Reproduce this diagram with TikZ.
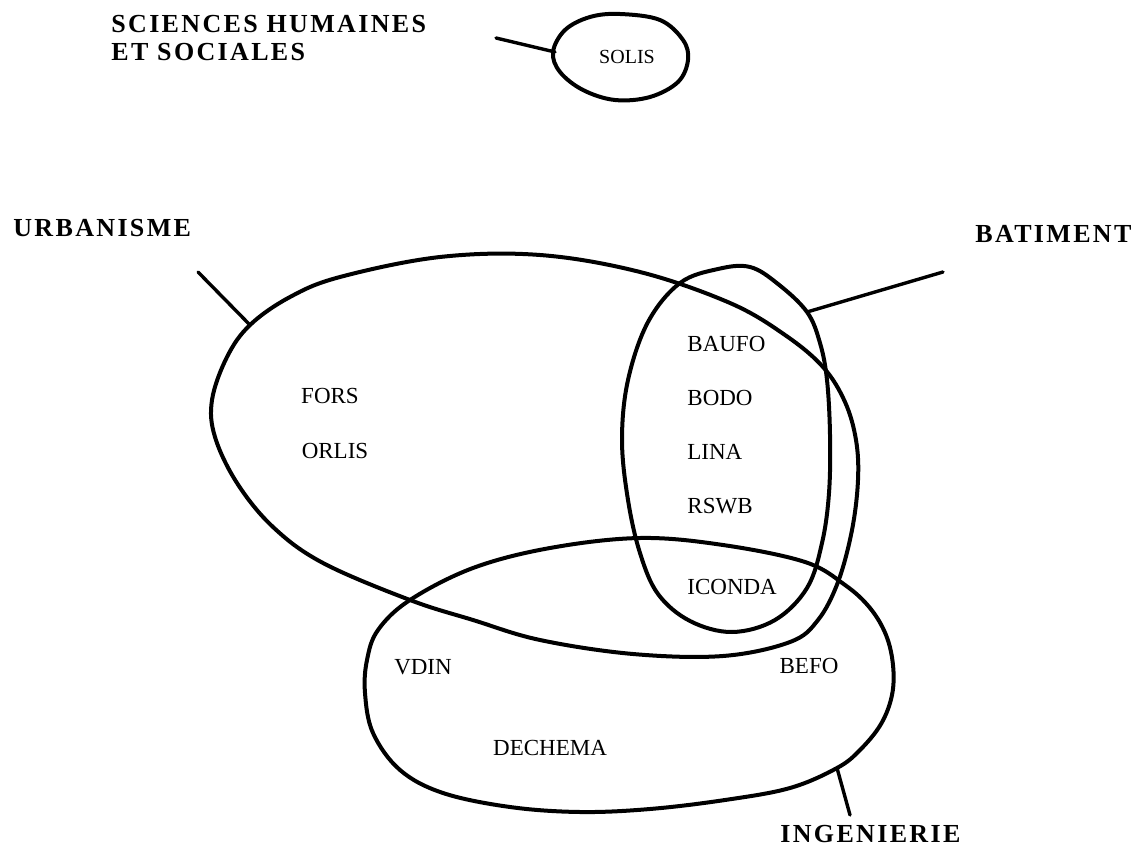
\documentclass[tikz,border=0pt]{standalone}
\usepackage{fontspec}
\setmainfont{Liberation Serif}
\newfontfamily\domainfont[LetterSpace=9]{Liberation Serif}
\usetikzlibrary{positioning}

\begin{document}
\begin{tikzpicture}[x=0.5pt, y=-0.5pt, node distance=19pt]
    \tikzstyle{field} = [draw, line width=2pt, line join=round]
    \tikzstyle{hook_line} = [draw, line width=1.7pt, line cap=round]
    \tikzstyle{field_label} = [inner sep=0pt, align=left, font=\domainfont\bfseries\fontsize{13}{14}\selectfont]
    \tikzstyle{dbname} = [inner sep=0pt, font=\fontsize{11.5}{13}\selectfont]

    \useasboundingbox (0,0) rectangle (1145,850);

    % domain labels
    \node [field_label, anchor=north west] (shs) at (111,15) {SCIENCES HUMAINES\\ET SOCIALES};
    \node [field_label, anchor=west] (urbanisme) at (13,228) {URBANISME};
    \node [field_label, anchor=west] (batiment) at (975,234) {BATIMENT};
    \node [field_label, anchor=west] (ingenierie) at (780,834) {INGENIERIE};

    % fields
    \path [field] plot [smooth cycle, tension=0.6] coordinates {
        (620,14) (660,20) (683,40) (688,60) (678,82) (650,97) (615,100)
        (583,90) (560,72) (553,52) (565,30) (590,17)};
    \path [field] plot [smooth cycle, tension=0.6] coordinates {
        (440,257) (540,255) (640,272) (730,303) (785,335) (823,367) (845,402)
        (856,440) (858,480) (852,530) (838,582) (818,620) (790,642) (723,656)
        (633,654) (540,640) (473,620) (410,600) (323,563) (273,527) (237,483)
        (215,437) (212,400) (227,357) (250,325) (290,297) (340,277)};
    \path [field] plot [smooth cycle, tension=0.6] coordinates {
        (718,269) (750,267) (778,284) (807,312) (820,343) (827,380) (830,435)
        (829,493) (822,543) (807,588) (775,620) (732,632) (690,621) (658,594)
        (640,553) (628,500) (622,440) (628,380) (648,322) (680,283)};
    \path [field] plot [smooth cycle, tension=0.6] coordinates {
        (640,538) (723,545) (805,562) (845,585) (870,608) (886,635) (893,665)
        (892,695) (881,724) (860,750) (837,768) (790,788) (725,800) (650,809)
        (580,812) (510,807) (443,793) (400,770) (373,733) (365,693) (367,660)
        (378,630) (410,600) (473,568) (550,548)};

    % hooks from the labels to the fields
    \coordinate (solis_end) at (496,38);
    \coordinate (solis_hook) at (555,52);
    \coordinate (urb_end) at (198,272);
    \coordinate (urb_hook) at (250,325);
    \coordinate (bat_end) at (943,272);
    \coordinate (bat_hook) at (807,312);
    \coordinate (ing_end) at (850,815);
    \coordinate (ing_hook) at (837,768);

    \path [hook_line] (solis_end) -- (solis_hook);
    \path [hook_line] (urb_end) -- (urb_hook);
    \path [hook_line] (bat_end) -- (bat_hook);
    \path [hook_line] (ing_end) -- (ing_hook);

    % data bases
    \node [dbname, font=\fontsize{10}{12}\selectfont] (solis) at (627,57) {SOLIS};
    \node [dbname] (fors) at (330,396) {FORS};
    \node [dbname] (orlis) at (335,451) {ORLIS};
    \node [dbname, anchor=west] (baufo) at (687,344) {BAUFO};
    \node [dbname, below=19pt of baufo.south west, anchor=north west] (bodo) {BODO};
    \node [dbname, below=19pt of bodo.south west, anchor=north west] (lina) {LINA};
    \node [dbname, below=19pt of lina.south west, anchor=north west] (rswb) {RSWB};
    \node [dbname, anchor=west] (iconda) at (687,587) {ICONDA};
    \node [dbname] (vdin) at (423,667) {VDIN};
    \node [dbname] (befo) at (809,666) {BEFO};
    \node [dbname] (dechema) at (550,748) {DECHEMA};
\end{tikzpicture}
\end{document}
